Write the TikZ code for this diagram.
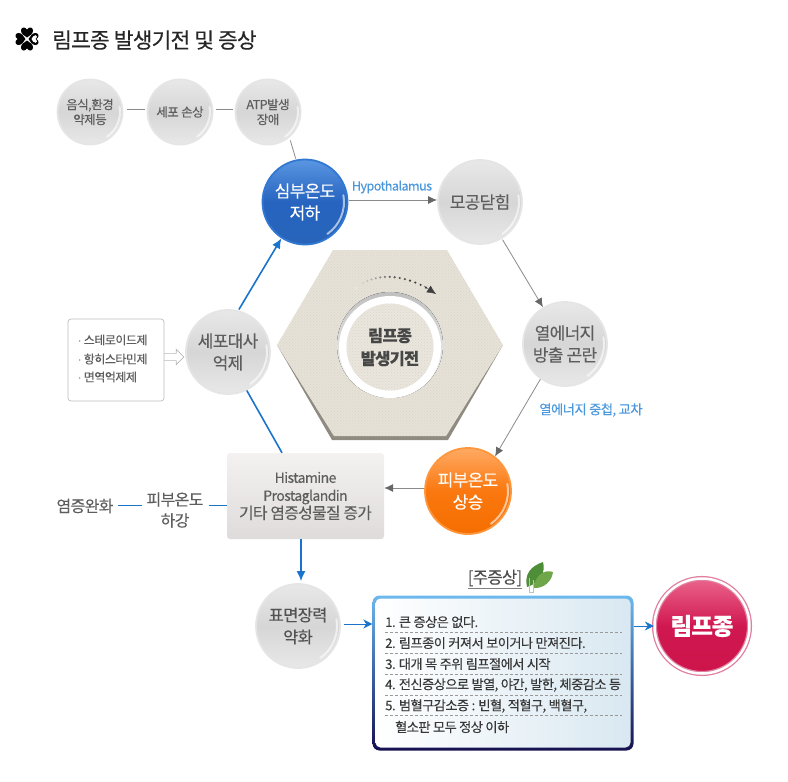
\documentclass[tikz,border=0pt]{standalone}
\usepackage{fontspec}
\setmainfont[LetterSpace=-4,FakeBold=0.25]{Noto Sans CJK KR}
\usetikzlibrary{arrows.meta,patterns,shapes.arrows}

\definecolor{txtgray}{HTML}{5E5E5E}
\definecolor{linegray}{HTML}{8A8A8A}
\definecolor{headgray}{HTML}{666666}
\definecolor{bluearrow}{HTML}{1B74CC}
\definecolor{bluetxt}{HTML}{4C98DC}
\definecolor{hexfill}{HTML}{E6E2D8}
\definecolor{hexdot}{HTML}{DAD5C9}
\definecolor{hexedge}{HTML}{8F8B80}
\definecolor{boxtop}{HTML}{F4F1F1}
\definecolor{boxbot}{HTML}{DFDBDB}
\definecolor{sympend}{HTML}{D9E8F1}
\definecolor{leafdark}{HTML}{4E8E38}
\definecolor{leaflight}{HTML}{6FA64A}

\tikzset{
  bubgray/.style={circle, draw=black!10, line width=1.8pt, minimum size=84pt, inner sep=0pt, align=center,
    top color=black!9, bottom color=black!9, middle color=black!16, text=txtgray, font=\fontsize{17}{22}\selectfont},
  bubsmall/.style={bubgray, minimum size=65pt, font=\fontsize{12.5}{15}\selectfont},
  bubblue/.style={bubgray, draw={rgb,255:red,50;green,120;blue,210}, text=white, top color={rgb,255:red,90;green,150;blue,225}, bottom color={rgb,255:red,40;green,100;blue,185}, middle color={rgb,255:red,38;green,100;blue,192}},
  buborange/.style={bubgray, draw={rgb,255:red,255;green,150;blue,60}, text=white, minimum size=86pt, top color={rgb,255:red,255;green,170;blue,100}, bottom color={rgb,255:red,245;green,110;blue,0}, middle color={rgb,255:red,250;green,120;blue,15}},
  thinline/.style={linegray, line width=0.8pt},
  thinarrow/.style={thinline, ->, >={Latex[length=9pt,width=8pt,color=headgray]}},
  bluearr/.style={bluearrow, line width=1.6pt, ->, >={Latex[length=10pt,width=9pt]}},
  blueline/.style={bluearrow, line width=1.6pt},
  smallblue/.style={bluearrow, line width=0.9pt, ->, >={Stealth[length=9pt,width=9pt]}},
  plaintxt/.style={inner sep=0pt, text=txtgray, align=center, font=\fontsize{16}{21}\selectfont},
  bluetxtnode/.style={inner sep=0pt, text=bluetxt, font=\fontsize{12.5}{15}\selectfont},
  listtxt/.style={anchor=west, inner sep=0pt, text=txtgray, font=\fontsize{12}{13}\selectfont},
  symptxt/.style={anchor=west, inner sep=0pt, text=black!78, font=\fontsize{13.2}{15}\selectfont},
  dashsep/.style={black!40, densely dashed, line width=0.5pt},
}

\newcommand{\bubgloss}[2]{\draw[white, opacity=0.6, line width=2pt, line cap=round] (#1.center) ++(-10:#2) arc (-10:55:#2);}

\begin{document}
\begin{tikzpicture}[x=1pt, y=-1pt]

\useasboundingbox (0,0) rectangle (788,782);

% title
\foreach \ang in {0,90,180,270}{
\fill[black, shift={(27,39)}, rotate=\ang] (0,-1.5) .. controls (-2.5,-3.5) and (-6.5,-5) .. (-6,-9) .. controls (-5.5,-12) and (-1.8,-12.5) .. (0,-9.5) .. controls (1.8,-12.5) and (5.5,-12) .. (6,-9) .. controls (6.5,-5) and (2.5,-3.5) .. (0,-1.5) -- cycle;
}
\fill[white, shift={(27,39)}, rotate=-90] (0,-4.5) .. controls (-1.5,-5.5) and (-4.2,-6.5) .. (-3.8,-8.8) .. controls (-3.5,-10.4) and (-1,-10.5) .. (0,-8.5) .. controls (1,-10.5) and (3.5,-10.4) .. (3.8,-8.8) .. controls (4.2,-6.5) and (1.5,-5.5) .. (0,-4.5) -- cycle;
\node (title) at (52,40) [anchor=west, inner sep=0pt, text=black!85, font=\fontsize{21.5}{24}\selectfont] {림프종 발생기전 및 증상};

% hexagon
\fill[hexedge] (277,345) -- (332,440) -- (448,440) -- (503,345) -- cycle;
\fill[hexfill] (333,250) -- (447,250) -- (503,345) -- (446,436) -- (334,436) -- (277,345) -- cycle;
\fill[pattern=crosshatch dots, pattern color=hexdot] (333,250) -- (447,250) -- (503,345) -- (446,436) -- (334,436) -- (277,345) -- cycle;

\fill[top color=black!25, bottom color=white] (390,345) circle (53);
\fill[white] (390,347) circle (51);
\node (center) at (390,347) [circle, minimum size=87pt, inner sep=0pt, align=center, preaction={fill=hexfill!85!white}, pattern=crosshatch dots, pattern color=hexdot] {};
\node (centertxt) at (390,347) [inner sep=0pt, align=center, text=black!72, font=\bfseries\fontsize{16.4}{23}\selectfont] {림프종\\발생기전};

% dotted arc
\foreach \t/\tone in {0/8,0.06/12,0.12/18,0.18/24,0.24/30,0.30/38,0.36/46,0.42/54,0.48/60,0.54/66,0.60/70,0.66/72,0.72/74,0.78/75,0.84/75,0.90/75}{
\path (356,288) .. controls (375,272) and (405,273) .. (435,293) coordinate[pos=\t] (dot);
\fill[black!\tone] (dot) circle (1.2);
}
\coordinate (arctail) at (424,286);
\coordinate (archead) at (436,294);
\draw[black!75, -{Latex[length=9pt,width=8pt]}] (arctail) -- (archead);

% small circles
\node (food) at (90,112) [bubsmall] {음식,환경\\약제등};
\node (cell) at (180,112) [bubsmall] {세포 손상};
\node (atp) at (268,112) [bubsmall] {ATP발생\\장애};

% main cycle
\node (core) at (305,202) [bubblue, minimum size=85pt] {심부온도\\저하};
\node (pore) at (480,202) [bubgray] {모공닫힘};
\node (heat) at (565,344) [bubgray] {열에너지\\방출 곤란};
\node (skin) at (468,491) [buborange] {피부온도\\상승};
\node (meta) at (228,352) [bubgray] {세포대사\\억제};
\node (tension) at (298,626) [bubgray, text=black!68, font=\fontsize{16.5}{22}\selectfont] {표면장력\\약화};

\foreach \nm/\rad in {food/30,cell/30,atp/30,core/39,pore/39,heat/39,skin/40,meta/39,tension/39}{
\bubgloss{\nm}{\rad}
}

% left list
\node (drugarrow) at (172,357) [single arrow, draw=black!28, fill=white, line width=0.7pt, minimum width=15pt, minimum height=20pt, single arrow head extend=2.5pt, single arrow tip angle=90, inner sep=2pt] {};
\node (drugs) at (116,360) [draw=black!25, fill=white, line width=0.7pt, rounded corners=3pt, minimum width=96pt, minimum height=82pt] {};
\node (drugone) at (78,340) [listtxt] {$\cdot$ 스테로이드제};
\node (drugtwo) at (78,359) [listtxt] {$\cdot$ 항히스타민제};
\node (drugthree) at (78,377) [listtxt] {$\cdot$ 면역억제제};

% center box
\node (hista) at (305.5,496) [rounded corners=3pt, minimum width=157pt, minimum height=86pt, inner sep=0pt, align=center, text=txtgray, top color=boxtop, bottom color=boxbot, font=\fontsize{14}{18}\selectfont] {Histamine\\Prostaglandin\\{\fontsize{15.8}{18}\selectfont 기타 염증성물질 증가}};

\node (down) at (175,510) [plaintxt] {피부온도\\하강};
\node (relief) at (85,506) [plaintxt] {염증완화};

% symptoms box
\node (sympouter) at (503,673) [rounded corners=7pt, minimum width=261pt, minimum height=155pt, inner sep=0pt, top color={rgb,255:red,109;green,185;blue,236}, bottom color={rgb,255:red,22;green,16;blue,79}, middle color={rgb,255:red,60;green,100;blue,165}] {};
\node (sympbox) at (503,673) [rounded corners=5pt, minimum width=255pt, minimum height=149pt, inner sep=0pt, left color=white, right color=sympend] {};

\node (sympone) at (385,622) [symptxt] {1. 큰 증상은 없다.};
\node (symptwo) at (385,643) [symptxt] {2. 림프종이 커져서 보이거나 만져진다.};
\node (sympthree) at (385,664) [symptxt] {3. 대개 목 주위 림프절에서 시작};
\node (sympfour) at (385,685) [symptxt] {4. 전신증상으로 발열, 야간,  발한, 체중감소 등};
\node (sympfive) at (385,706) [symptxt] {5. 범혈구감소증 : 빈혈, 적혈구, 백혈구,};
\node (sympsix) at (395,727) [symptxt] {혈소판 모두 정상 이하};

\foreach \yy in {632,653,674,695,715}{
\draw[dashsep] (385,\yy) -- (622,\yy);
}

\node (symptitle) at (495,578) [inner sep=0pt, text=black!70, font=\fontsize{16.6}{18}\selectfont] {[주증상]};
\draw[black!50, line width=0.8pt] (468,588) -- (522,588);

% leaf
\fill[leafdark] (527,587) .. controls (524,574) and (531,566) .. (543,562) .. controls (546,572) and (540,583) .. (527,587) -- cycle;
\fill[leaflight] (533,588) .. controls (536,575) and (544,569) .. (553,572) .. controls (552,581) and (544,589) .. (533,588) -- cycle;
\draw[black!25, line width=0.7pt] (529,578) -- (529,592) -- (533,592) -- (533,580);

\node (lymph) at (702,626) [circle, minimum size=95pt, inner sep=0pt, draw={rgb,255:red,224;green,127;blue,160}, double=white, double distance=2.5pt, line width=1.3pt, top color={rgb,255:red,235;green,100;blue,140}, bottom color={rgb,255:red,205;green,20;blue,75}, middle color={rgb,255:red,208;green,24;blue,80}, text=white, font=\bfseries\fontsize{23.5}{26}\selectfont] {림프종};

% connectors
\draw[thinline, shorten <=4pt, shorten >=2pt] ([yshift=3pt]food.east) -- ([yshift=3pt]cell.west);
\draw[thinline, shorten <=3pt, shorten >=2pt] ([yshift=3pt]cell.east) -- ([yshift=3pt]atp.west);
\draw[thinline, shorten <=3pt, shorten >=1pt] (atp.-50) -- (core.102);

\draw[thinarrow, shorten <=1pt, shorten >=0pt] ([yshift=2pt]core.east) -- ([yshift=2pt]pore.west);
\draw[thinarrow, shorten <=1pt] (pore) -- (heat);
\draw[thinarrow] (heat.-125) -- (skin.52);
\draw[thinarrow] (skin.west |- 0,488) -- (hista.east |- 0,488);

\draw[bluearr, shorten <=1pt, shorten >=0pt] (meta.76) -- (core.-123);
\draw[blueline] (meta.-64) -- (hista.north -| 282,453);
\draw[bluearr, shorten >=2pt] (hista.south -| 301,539) -- (tension.north -| 301,584);
\draw[blueline, line width=0.9pt, shorten <=4pt, shorten >=4pt] (relief.east |- 0,505.5) -- (down.west |- 0,505.5);
\draw[blueline, line width=0.9pt, shorten <=5pt] (down.east |- 0,505.5) -- (hista.west |- 0,505.5);
\draw[smallblue, shorten <=3pt] (tension.east |- 0,624) -- (sympouter.west |- 0,624);
\draw[smallblue] (sympouter.east |- lymph) -- (lymph.west);

\node (hypo) at (392,187) [bluetxtnode] {Hypothalamus};
\node (overlap) at (591,410) [bluetxtnode, font=\fontsize{13.3}{15}\selectfont] {열에너지 중첩, 교차};

\end{tikzpicture}
\end{document}
